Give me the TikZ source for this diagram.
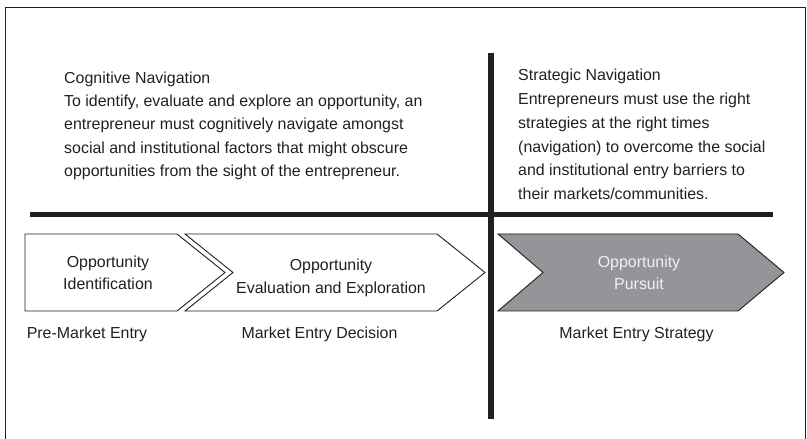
\documentclass[tikz,border=0pt]{standalone}
\usepackage{fontspec}
\setmainfont{Liberation Sans}
\definecolor{ink}{HTML}{231F20}
\definecolor{chevgrey}{HTML}{939598}
\definecolor{paletext}{HTML}{F2F2F2}
\begin{document}
\begin{tikzpicture}[x=1bp,y=-1bp,
  bar/.style={line width=5.8bp, draw=ink},
  frame/.style={line width=0.9bp, draw=ink},
  chevron/.style={line width=0.9bp, draw=ink, line join=miter},
  para/.style={anchor=base west, inner sep=0pt, text=ink},
  label/.style={anchor=base, inner sep=0pt, text=ink, font=\fontsize{16}{20}\selectfont},
  intext/.style={anchor=base, inner sep=0pt, text=ink}]
\useasboundingbox (0,0) rectangle (807,439);
% outer frame (open at the bottom)
\draw[frame] (5.5,445) -- (5.5,7.5) -- (805,7.5) -- (805,445);
% crossing bars
\coordinate (hl) at (30,214.5);
\coordinate (hr) at (773,214.5);
\coordinate (vt) at (491,53);
\coordinate (vb) at (491,419);
\draw[bar] (hl) -- (hr);
\draw[bar] (vt) -- (vb);
% chevrons
\draw[chevron, fill=white] (25,234) -- (177,234) -- (225,272.5) -- (177,311) -- (25,311) -- cycle;
\draw[chevron, fill=white] (185,234) -- (437,234) -- (485,272.5) -- (437,311) -- (185,311) -- (233,272.5) -- cycle;
\draw[chevron, fill=chevgrey] (498,234) -- (738,234) -- (784,272.5) -- (738,311) -- (498,311) -- (543,272.5) -- cycle;
% chevron texts
\node[intext] (oid) at (108,267.5) {\parbox[t]{6cm}{\centering\fontsize{16}{22}\selectfont Opportunity\\Identification}};
\node[intext] (oee) at (331,271) {\parbox[t]{8cm}{\centering\fontsize{16}{22.5}\selectfont Opportunity\\Evaluation and Exploration}};
\node[intext, text=paletext] (opu) at (639,268) {\parbox[t]{6cm}{\centering\fontsize{16}{22}\selectfont Opportunity\\Pursuit}};
% labels under chevrons
\node[label] (pme) at (87,338.5) {Pre-Market Entry};
\node[label] (med) at (319.5,338.5) {Market Entry Decision};
\node[label] (mes) at (636.5,338.5) {Market Entry Strategy};
% text blocks
\node[para] (cog) at (64,83.3) {\parbox[t]{15cm}{\raggedright\fontsize{16}{23.35}\selectfont
Cognitive Navigation\\
To identify, evaluate and explore an opportunity, an\\
entrepreneur must cognitively navigate amongst\\
social and institutional factors that might obscure\\
opportunities from the sight of the entrepreneur.}};
\node[para] (strat) at (518,80.8) {\parbox[t]{10cm}{\raggedright\fontsize{16}{23.85}\selectfont
Strategic Navigation\\
Entrepreneurs must use the right\\
strategies at the right times\\
(navigation) to overcome the social\\
and institutional entry barriers to\\
their markets/communities.}};
\end{tikzpicture}
\end{document}
